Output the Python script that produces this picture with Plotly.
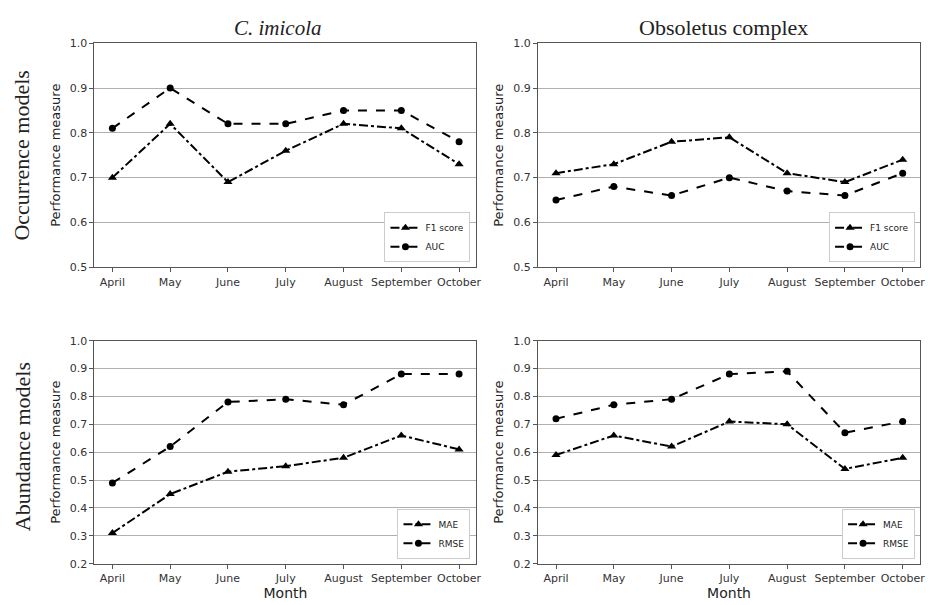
import plotly.graph_objects as go

months = ["April", "May", "June", "July", "August", "September", "October"]

imicola_f1 = [0.70, 0.82, 0.69, 0.76, 0.82, 0.81, 0.73]
imicola_auc = [0.81, 0.90, 0.82, 0.82, 0.85, 0.85, 0.78]
obs_f1 = [0.71, 0.73, 0.78, 0.79, 0.71, 0.69, 0.74]
obs_auc = [0.65, 0.68, 0.66, 0.70, 0.67, 0.66, 0.71]
imicola_mae = [0.31, 0.45, 0.53, 0.55, 0.58, 0.66, 0.61]
imicola_rmse = [0.49, 0.62, 0.78, 0.79, 0.77, 0.88, 0.88]
obs_mae = [0.59, 0.66, 0.62, 0.71, 0.70, 0.54, 0.58]
obs_rmse = [0.72, 0.77, 0.79, 0.88, 0.89, 0.67, 0.71]

W, H = 930, 605
def px_x(v): return v / W
def px_y(v): return 1 - v / H

xdom_l = [px_x(95), px_x(479)]
xdom_r = [px_x(541), px_x(925)]
ydom_t = [px_y(267), px_y(38)]
ydom_b = [px_y(570), px_y(342)]

fig = go.Figure()

panels = [
    ("x", "y", "legend", imicola_f1, imicola_auc, "F1 score", "AUC"),
    ("x2", "y2", "legend2", obs_f1, obs_auc, "F1 score", "AUC"),
    ("x3", "y3", "legend3", imicola_mae, imicola_rmse, "MAE", "RMSE"),
    ("x4", "y4", "legend4", obs_mae, obs_rmse, "MAE", "RMSE"),
]

for xa, ya, lg, a, b, na, nb in panels:
    fig.add_trace(go.Scatter(
        x=months, y=a, name=na, xaxis=xa, yaxis=ya, legend=lg,
        mode="lines+markers",
        line=dict(color="black", width=2, dash="dashdot"),
        marker=dict(symbol="triangle-up", size=8, color="black"),
    ))
    fig.add_trace(go.Scatter(
        x=months, y=b, name=nb, xaxis=xa, yaxis=ya, legend=lg,
        mode="lines+markers",
        line=dict(color="black", width=2, dash="dash"),
        marker=dict(symbol="circle", size=7, color="black"),
    ))

axis_common = dict(
    showline=True, linecolor="#555", linewidth=1.2, mirror=True,
    ticks="outside", ticklen=4, tickcolor="#555",
    tickfont=dict(family="DejaVu Sans", size=11, color="#333"),
)

xr = [-0.31, 6.3]
def xaxis(dom, anchor, title=None):
    d = dict(axis_common, domain=dom, anchor=anchor, range=xr,
             showgrid=False, type="category")
    if title:
        d["title"] = dict(text=title, font=dict(family="DejaVu Sans", size=14, color="#222"), standoff=4)
    return d

def yaxis(dom, anchor, rng, dtick):
    return dict(axis_common, domain=dom, anchor=anchor, range=rng, dtick=dtick,
                tickformat=".1f", showgrid=True, gridcolor="#b0b0b0", gridwidth=1,
                zeroline=False,
                title=dict(text="Performance measure",
                           font=dict(family="DejaVu Sans", size=13, color="#222"), standoff=6))

def legend(xr_px, yb_px):
    return dict(x=px_x(xr_px), y=px_y(yb_px), xanchor="right", yanchor="bottom",
                bgcolor="white", bordercolor="#ccc", borderwidth=1,
                font=dict(family="DejaVu Sans", size=9, color="#222"),
                itemwidth=30, tracegroupgap=0)

fig.update_layout(
    width=W, height=H, margin=dict(l=0, r=0, t=0, b=0),
    paper_bgcolor="white", plot_bgcolor="white",
    xaxis=xaxis(xdom_l, "y"),
    yaxis=yaxis(ydom_t, "x", [0.5, 1.0], 0.1),
    xaxis2=xaxis(xdom_r, "y2"),
    yaxis2=yaxis(ydom_t, "x2", [0.5, 1.0], 0.1),
    xaxis3=xaxis(xdom_l, "y3", "Month"),
    yaxis3=yaxis(ydom_b, "x3", [0.2, 1.0], 0.1),
    xaxis4=xaxis(xdom_r, "y4", "Month"),
    yaxis4=yaxis(ydom_b, "x4", [0.2, 1.0], 0.1),
    legend=legend(473, 262),
    legend2=legend(920, 262),
    legend3=legend(473, 565),
    legend4=legend(920, 565),
    showlegend=True,
)

serif = "Liberation Serif"
def ann(text, x, y, size, angle=0):
    fig.add_annotation(text=text, x=px_x(x), y=px_y(y), xref="paper", yref="paper",
                       xanchor="center", yanchor="middle", showarrow=False,
                       textangle=angle, font=dict(family=serif, size=size, color="#222"))

ann("<i>C. imicola</i>", 280, 22, 21)
ann("Obsoletus complex", 727, 22, 22)
ann("Occurrence models", 22, 153, 22, -90)
ann("Abundance models", 22, 450, 22, -90)

fig.write_html("out.html")
